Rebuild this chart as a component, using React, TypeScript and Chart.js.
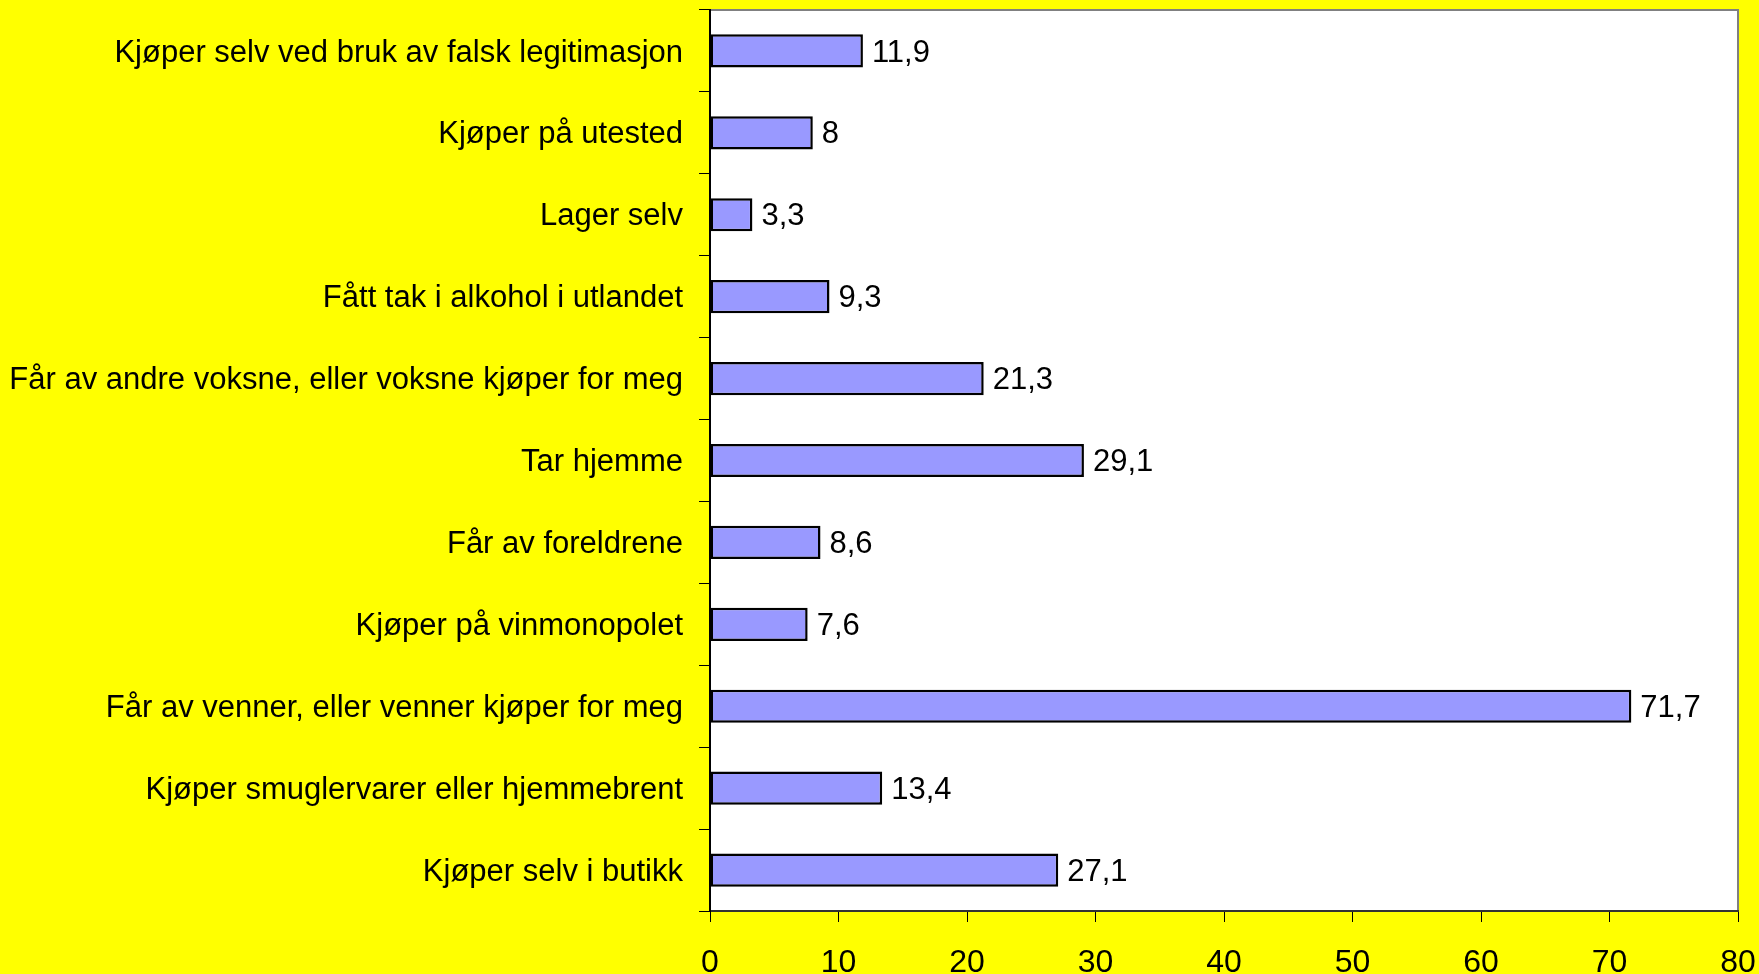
import React, { useEffect, useRef } from "react";
import { Chart, registerables } from "chart.js";

Chart.register(...registerables);

const categories = [
  "Kjøper selv ved bruk av falsk legitimasjon",
  "Kjøper på utested",
  "Lager selv",
  "Fått tak i alkohol i utlandet",
  "Får av andre voksne, eller voksne kjøper for meg",
  "Tar hjemme",
  "Får av foreldrene",
  "Kjøper på vinmonopolet",
  "Får av venner, eller venner kjøper for meg",
  "Kjøper smuglervarer eller hjemmebrent",
  "Kjøper selv i butikk",
];

const values = [11.9, 8, 3.3, 9.3, 21.3, 29.1, 8.6, 7.6, 71.7, 13.4, 27.1];

const xMin = 0;
const xMax = 80;
const xStep = 10;

const FONT = "'Liberation Sans', Arial, sans-serif";

export default function App() {
  const ref = useRef<HTMLCanvasElement>(null);

  useEffect(() => {
    document.body.style.margin = "0";
    document.body.style.background = "#FFFF00";
    const canvas = ref.current;
    if (!canvas) return;

    const bgPlugin = {
      id: "bgPlot",
      beforeDraw(chart: any) {
        const c = chart.ctx;
        const a = chart.chartArea;
        c.save();
        c.fillStyle = "#FFFF00";
        c.fillRect(0, 0, chart.width, chart.height);
        c.fillStyle = "#FFFFFF";
        c.fillRect(a.left, a.top, a.right - a.left, a.bottom - a.top);
        c.strokeStyle = "#808080";
        c.lineWidth = 2;
        c.beginPath();
        c.moveTo(a.left, a.top);
        c.lineTo(a.right, a.top);
        c.lineTo(a.right, a.bottom);
        c.stroke();
        c.restore();
      },
    };

    const valuePlugin = {
      id: "valueLabels",
      afterDatasetsDraw(chart: any) {
        const c = chart.ctx;
        const meta = chart.getDatasetMeta(0);
        c.save();
        c.font = `31px ${FONT}`;
        c.fillStyle = "#000000";
        c.textAlign = "left";
        c.textBaseline = "middle";
        meta.data.forEach((bar: any, i: number) => {
          const txt = String(values[i]).replace(".", ",");
          c.fillText(txt, bar.x + 9, bar.y + 2);
        });
        c.restore();
      },
    };

    const chart = new Chart(canvas, {
      type: "bar",
      data: {
        labels: categories,
        datasets: [
          {
            data: values,
            backgroundColor: "#9999FF",
            borderColor: "#000000",
            borderWidth: 2.5,
            borderSkipped: false,
            categoryPercentage: 1,
            barPercentage: 0.405,
          },
        ],
      },
      options: {
        indexAxis: "y",
        responsive: false,
        animation: false,
        devicePixelRatio: 1,
        layout: { padding: { top: 10, right: 21, left: 0, bottom: 0 } },
        plugins: {
          legend: { display: false },
          tooltip: { enabled: false },
          title: { display: false },
        },
        scales: {
          x: {
            type: "linear",
            min: xMin,
            max: xMax,
            ticks: {
              stepSize: xStep,
              color: "#000000",
              font: { family: FONT, size: 32 },
              padding: 22,
              maxRotation: 0,
            },
            grid: {
              drawOnChartArea: false,
              drawTicks: true,
              tickLength: 11,
              color: "#000000",
              lineWidth: 1,
            },
            border: { color: "#333333", width: 2 },
            afterFit(scale: any) {
              scale.height = 63;
              scale.paddingLeft = 0;
              scale.paddingRight = 0;
              scale.paddingTop = 0;
              scale.paddingBottom = 0;
            },
          },
          y: {
            type: "category",
            offset: true,
            ticks: {
              color: "#000000",
              font: { family: FONT, size: 31 },
              padding: 16,
              autoSkip: false,
              labelOffset: 2,
            },
            grid: {
              offset: true,
              drawOnChartArea: false,
              drawTicks: true,
              tickLength: 11,
              color: "#000000",
              lineWidth: 1,
            },
            border: { color: "#000000", width: 2 },
            afterFit(scale: any) {
              scale.width = 710;
              scale.paddingLeft = 0;
              scale.paddingRight = 0;
              scale.paddingTop = 0;
              scale.paddingBottom = 0;
            },
          },
        },
      },
      plugins: [bgPlugin, valuePlugin],
    });

    return () => chart.destroy();
  }, []);

  return (
    <canvas
      ref={ref}
      width={1759}
      height={974}
      style={{ display: "block", width: "1759px", height: "974px" }}
    />
  );
}
